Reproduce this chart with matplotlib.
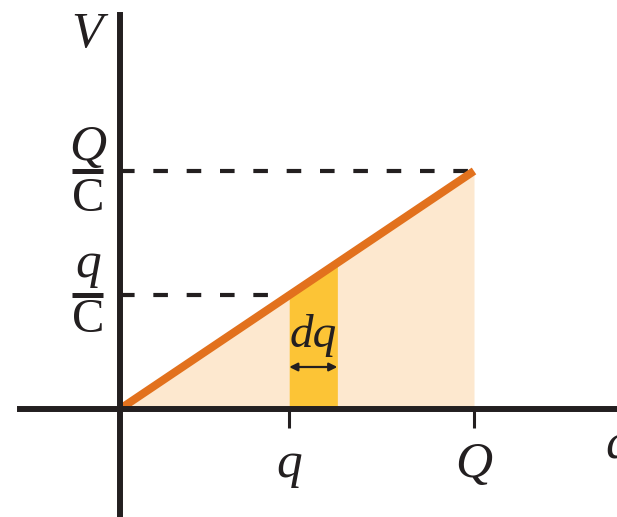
import numpy as np
import matplotlib.pyplot as plt

# charge values on the q axis (Q = 1), capacitance C = 1
q_small = 0.478
q_big = 1.0
dq = 0.136
cap = 1.0
x_tick_vals = [q_small, q_big]
x_tick_labels = ['q', 'Q']
v_fracs = [('q', 'C'), ('Q', 'C')]

ink = '#231f20'
line_col = '#e2711d'
fill_col = '#fde8cf'
strip_col = '#fcc436'
font = dict(family='Liberation Serif', style='italic', color=ink)

W, H = 617, 517
ox, oy = 120, 409      # where the origin sits in the picture
sx, sy = 354, 238      # pixels per unit on x and y

fig = plt.figure(figsize=(W / 100, H / 100), dpi=100)
ax = fig.add_axes([0, 0, 1, 1])
ax.set_xlim(-ox / sx, (W - ox) / sx)
ax.set_ylim(-(H - oy) / sy, oy / sy)
px = 1 / sx
py = 1 / sy

# axes through the origin
for side in ['top', 'right']:
    ax.spines[side].set_visible(False)
ax.spines['left'].set_position(('data', 0))
ax.spines['bottom'].set_position(('data', 0))
ax.spines['left'].set_bounds(ax.get_ylim()[0], (oy - 15) * py)
ax.spines['bottom'].set_bounds(-100 * px, ax.get_xlim()[1])
for side in ['left', 'bottom']:
    ax.spines[side].set_linewidth(4.3)
    ax.spines[side].set_color(ink)
ax.set_yticks([])
ax.set_xticks(x_tick_vals)
ax.set_xticklabels([])
ax.tick_params(axis='x', direction='out', length=13.5, width=2.2, color=ink)

# area under V(q) and the thin strip dq
xs = np.array([0, q_big])
ax.fill_between(xs, xs / cap, color=fill_col, lw=0, zorder=1)
xs2 = np.array([q_small, q_small + dq])
ax.fill_between(xs2, xs2 / cap, color=strip_col, lw=0, zorder=1.2)
ax.plot(xs, xs / cap, color=line_col, lw=5.8, solid_capstyle='butt', zorder=2)

# dashed guides
for qv in x_tick_vals:
    ax.plot([0, qv], [qv / cap, qv / cap], color=ink, lw=3,
            ls=(0, (3.5, 4.5)), zorder=1.5)

# dq arrow and label
ya = (oy - 367) * py
ax.annotate('', xy=(q_small, ya), xytext=(q_small + dq, ya),
            arrowprops=dict(arrowstyle='<|-|>', color=ink, lw=1.6,
                            shrinkA=0, shrinkB=0, mutation_scale=12))
ax.text(q_small + dq / 2, (oy - 347) * py, 'dq', ha='center', va='baseline',
        fontsize=34, **font)

# x tick labels
for val, lab in zip(x_tick_vals, x_tick_labels):
    ax.text(val, -(477 - oy) * py, lab, ha='center', va='baseline',
            fontsize=37, **font)

# axis names
ax.text(-33 * px, (oy - 47) * py, 'V', ha='center', va='baseline',
        fontsize=37, **font)
ax.text((605 - ox) * px, (oy - 458) * py, 'q', ha='left', va='baseline',
        fontsize=37, **font)

# fraction labels on the V axis
fx = -32 * px
for (num, den), qv in zip(v_fracs, x_tick_vals):
    v = qv / cap
    up = 11 if num == 'Q' else 18
    down = 40 if num == 'Q' else 37
    ax.text(fx, v + up * py, num, ha='center', va='baseline', fontsize=37, **font)
    ax.text(fx, v - down * py, den, ha='center', va='baseline', fontsize=35,
            family='Liberation Serif', color=ink)
    ax.plot([fx - 16 * px, fx + 15 * px], [v, v], color=ink, lw=3.6,
            solid_capstyle='butt')

fig.savefig('out.png', dpi=100)
